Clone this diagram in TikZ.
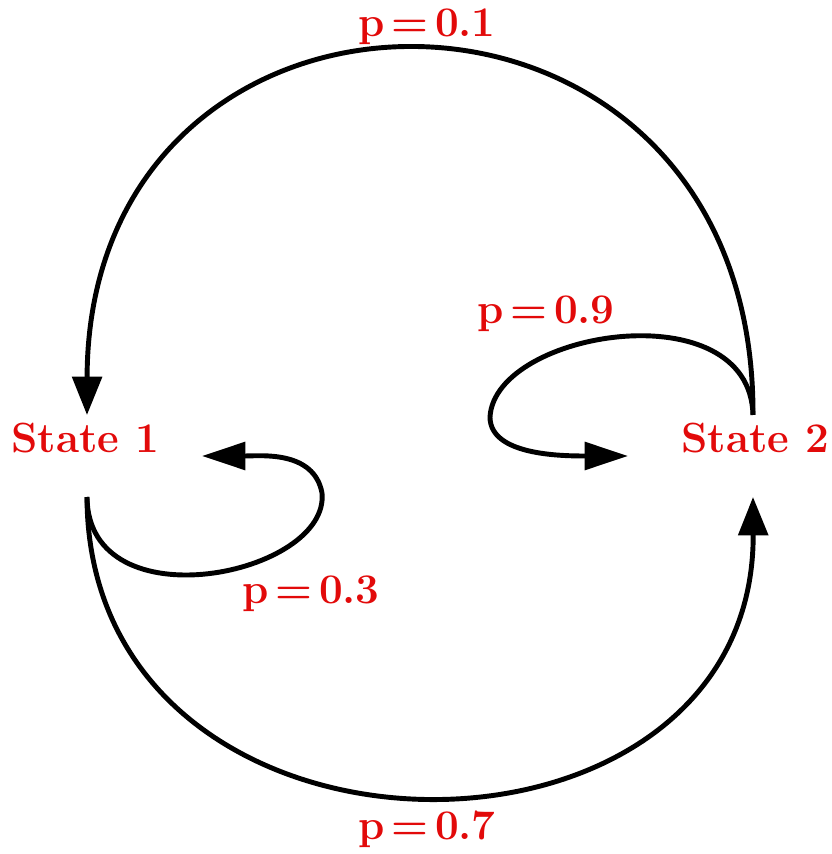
\documentclass[tikz,border=0pt]{standalone}
\usepackage{tikz}
\usepackage{xcolor}
\usetikzlibrary{positioning, arrows.meta, calc}
\definecolor{statered}{RGB}{226,10,10}
\newcommand{\probeq}[1]{p\hspace{0.16em}=\hspace{0.16em}#1}

\begin{document}
\begin{tikzpicture}[
						x=0.03cm, y=0.03cm,
						statelabel/.style={inner sep=0pt, text=statered, font=\fontsize{36}{42}\selectfont\bfseries},
						problabel/.style={inner sep=0pt, text=statered, font=\fontsize{36}{42}\selectfont\bfseries},
						line/.style={draw, line width=4.2pt, -{Triangle[length=1.15cm, width=0.88cm]}},
						loopline/.style={draw, line width=4.2pt, -{Triangle[length=1.3cm, width=0.82cm]}}
						]
						\useasboundingbox (0,0) rectangle (832,854);
						
						\node [statelabel] (state1) at (85,416) {State 1};
						\node [statelabel] (state2) at (755,416) {State 2};
						
						\node [problabel] (p01) at (427,827) {\probeq{0.1}};
						\node [problabel] (p09) at (546,540) {\probeq{0.9}};
						\node [problabel] (p03) at (311,260) {\probeq{0.3}};
						\node [problabel] (p07) at (427,25) {\probeq{0.7}};
						
						\coordinate (s2top) at (753,439);
						\coordinate (s1top) at (87,439);
						\coordinate (s1bot) at (87,357);
						\coordinate (s2bot) at (753,357);
						\coordinate (s1right) at (202,398);
						\coordinate (s2left) at (628,398);
						
						\draw [line] (s2top) .. controls (755,924) and (88,924) .. (s1top);
						\draw [line] (s1bot) .. controls (88,-40) and (755,-40) .. (s2bot);
						
						\draw [loopline] (s1bot) .. controls (88,229) and (330,279) .. (322,361) .. controls (314,404) and (260,398) .. (s1right);
						\draw [loopline] (s2top) .. controls (750,564) and (495,524) .. (490,437) .. controls (490,399) and (560,398) .. (s2left);
					\end{tikzpicture}
\end{document}
